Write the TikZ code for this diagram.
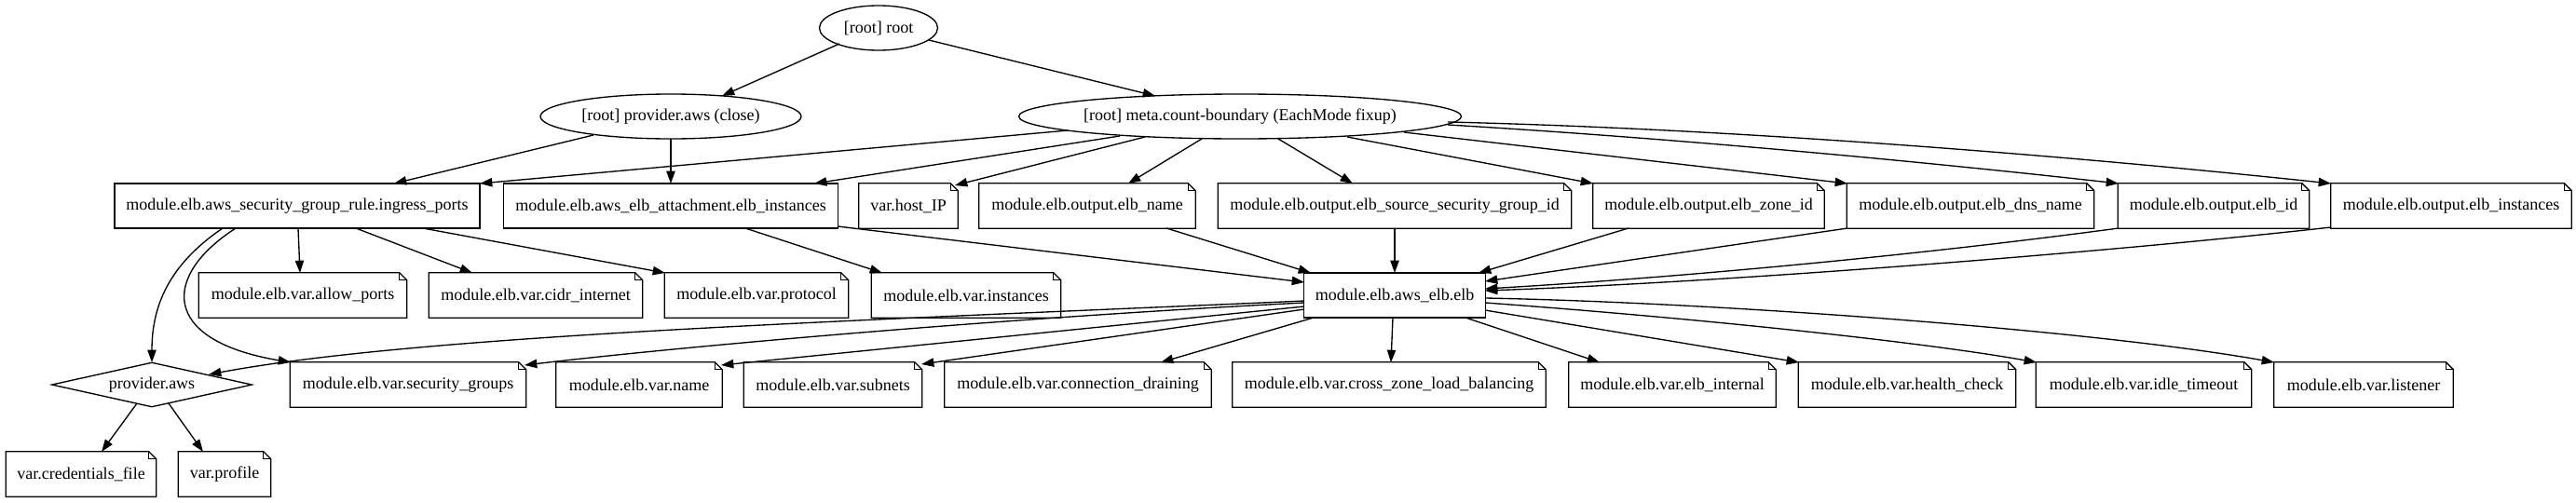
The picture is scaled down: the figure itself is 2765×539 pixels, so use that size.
\documentclass[tikz,border=0pt]{standalone}
\usepackage{fontspec}
\setmainfont{Liberation Serif}
\usetikzlibrary{shapes.geometric,arrows.meta,calc}
\begin{document}
\begin{tikzpicture}[x=0.75pt,y=-0.75pt,
  every node/.style={font=\fontsize{13.5}{16}\selectfont, inner sep=0pt, minimum height=36pt},
  boxnode/.style={draw, rectangle, line width=1pt},
  notenode/.style={rectangle},
  ellnode/.style={draw, ellipse, line width=1pt},
  dianode/.style={draw, diamond, aspect=4.5, line width=1pt},
  conn/.style={line width=1pt, -{Triangle[length=10pt,width=7pt]}},
  noteline/.style={line width=1pt, line join=miter}]
\useasboundingbox (0,0) rectangle (2765,539);

% rank 0-1
\node[ellnode, minimum width=95.25pt] (root) at (943,30) {[root] root};
\node[ellnode, minimum width=210pt] (pclose) at (720,125) {[root] provider.aws (close)};
\node[ellnode, minimum width=354pt] (meta) at (1331,125) {[root] meta.count-boundary (EachMode fixup)};

% rank 2
\node[boxnode, minimum width=294pt] (ingress) at (319,221) {module.elb.aws\_security\_group\_rule.ingress\_ports};
\node[boxnode, minimum width=269.25pt] (attach) at (720,221) {module.elb.aws\_elb\_attachment.elb\_instances};
\node[notenode, minimum width=79.5pt] (hostip) at (975,221) {var.host\_IP};
\node[notenode, minimum width=174pt] (oname) at (1167,221) {module.elb.output.elb\_name};
\node[notenode, minimum width=284.25pt] (osg) at (1497,221) {module.elb.output.elb\_source\_security\_group\_id};
\node[notenode, minimum width=186pt] (ozone) at (1834,221) {module.elb.output.elb\_zone\_id};
\node[notenode, minimum width=198.75pt] (odns) at (2115,221) {module.elb.output.elb\_dns\_name};
\node[notenode, minimum width=153.75pt] (oid) at (2376,221) {module.elb.output.elb\_id};
\node[notenode, minimum width=193.5pt] (oinst) at (2631,221) {module.elb.output.elb\_instances};

% rank 3
\node[notenode, minimum width=167.25pt] (allow) at (325,317) {module.elb.var.allow\_ports};
\node[notenode, minimum width=171.75pt] (cidr) at (575,317) {module.elb.var.cidr\_internet};
\node[notenode, minimum width=147.75pt] (proto) at (812,317) {module.elb.var.protocol};
\node[notenode, minimum width=152.25pt] (vinst) at (1037,317) {module.elb.var.instances};
\node[boxnode, minimum width=146.25pt] (elb) at (1497,317) {module.elb.aws\_elb.elb};

% rank 4
\node[dianode, minimum width=161.25pt] (paws) at (163,413) {provider.aws};
\node[notenode, minimum width=189.75pt] (sg) at (438,413) {module.elb.var.security\_groups};
\node[notenode, minimum width=133.5pt] (vname) at (686,413) {module.elb.var.name};
\node[notenode, minimum width=143.25pt] (subnets) at (894,413) {module.elb.var.subnets};
\node[notenode, minimum width=214.5pt] (drain) at (1157,413) {module.elb.var.connection\_draining};
\node[notenode, minimum width=252pt] (cross) at (1491,413) {module.elb.var.cross\_zone\_load\_balancing};
\node[notenode, minimum width=166.5pt] (internal) at (1795,413) {module.elb.var.elb\_internal};
\node[notenode, minimum width=174.75pt] (health) at (2047,413) {module.elb.var.health\_check};
\node[notenode, minimum width=173.25pt] (idle) at (2301,413) {module.elb.var.idle\_timeout};
\node[notenode, minimum width=144pt] (listener) at (2537,413) {module.elb.var.listener};

% rank 5
\node[notenode, minimum width=120.75pt] (cred) at (87,509) {var.credentials\_file};
\node[notenode, minimum width=74.25pt] (profile) at (241,509) {var.profile};

% note outlines
\foreach \n in {hostip,oname,osg,ozone,odns,oid,oinst,allow,cidr,proto,vinst,sg,vname,subnets,drain,cross,internal,health,idle,listener,cred,profile}{
  \draw[noteline] (\n.north west) -- ($(\n.north east)+(-8,0)$) -- ($(\n.north east)+(0,8)$) -- (\n.south east) -- (\n.south west) -- cycle;
  \draw[noteline] ($(\n.north east)+(-8,0)$) -- ($(\n.north east)+(-8,8)$) -- ($(\n.north east)+(0,8)$);
}

% edges
\draw[conn] ($(root)+(-42,17)$) -- ($(pclose)+(55,-22)$);
\draw[conn] ($(root)+(54,13)$) -- ($(meta)+(-91,-22)$);
\draw[conn] ($(pclose)+(-83,20)$) -- ($(ingress)+(104,-24)$);
\draw[conn] ($(pclose)+(0,24)$) -- ($(attach)+(0,-24)$);
\draw[conn] ($(meta)+(-185,15)$) -- ($(ingress)+(196,-24)$);
\draw[conn] ($(meta)+(-129,21)$) -- ($(attach)+(154,-24)$);
\draw[conn] ($(meta)+(-102,22)$) -- ($(hostip)+(50,-22)$);
\draw[conn] ($(meta)+(-41,24)$) -- ($(oname)+(44,-24)$);
\draw[conn] ($(meta)+(41,24)$) -- ($(osg)+(-45,-24)$);
\draw[conn] ($(meta)+(115,22)$) -- ($(ozone)+(-124,-24)$);
\draw[conn] ($(meta)+(176,17)$) -- ($(odns)+(-132,-24)$);
\draw[conn] ($(meta)+(223,9)$) .. controls (1790,148) and (2050,172) .. ($(oid)+(-102,-24)$);
\draw[conn] ($(meta)+(223,6)$) .. controls (1850,138) and (2200,165) .. ($(oinst)+(-129,-24)$);

\draw[conn] ($(ingress)+(-80,24)$) .. controls (180,285) and (163,330) .. ($(paws)+(0,-24)$);
\draw[conn] ($(ingress)+(-66,24)$) .. controls (175,295) and (170,365) .. ($(sg)+(-126,-24)$);
\draw[conn] ($(ingress)+(1,24)$) -- ($(allow)+(-3,-24)$);
\draw[conn] ($(ingress)+(63,24)$) -- ($(cidr)+(-68,-24)$);
\draw[conn] ($(ingress)+(135,24)$) -- ($(proto)+(-98,-24)$);
\draw[conn] ($(attach)+(80,24)$) -- ($(vinst)+(-90,-24)$);
\draw[conn] ($(attach)+(179,22)$) -- ($(elb)+(-97,-14)$);

\draw[conn] ($(oname)+(85,24)$) -- ($(elb)+(-90,-24)$);
\draw[conn] ($(osg)+(0,24)$) -- ($(elb)+(0,-24)$);
\draw[conn] ($(ozone)+(-86,24)$) -- ($(elb)+(90,-24)$);
\draw[conn] ($(odns)+(-132,24)$) -- ($(elb)+(97,-15)$);
\draw[conn] ($(oid)+(-102,24)$) .. controls (2050,275) and (1800,298) .. ($(elb)+(97,-7)$);
\draw[conn] ($(oinst)+(-129,23)$) .. controls (2250,272) and (1850,303) .. ($(elb)+(97,-5)$);

\draw[conn] ($(elb)+(-97,6)$) .. controls (900,345) and (450,360) .. ($(paws)+(61,-11)$);
\draw[conn] ($(elb)+(-97,8)$) .. controls (1100,340) and (750,370) .. ($(sg)+(125,-21)$);
\draw[conn] ($(elb)+(-97,12)$) -- ($(vname)+(88,-21)$);
\draw[conn] ($(elb)+(-97,15)$) -- ($(subnets)+(95,-22)$);
\draw[conn] ($(elb)+(-87,24)$) -- ($(drain)+(89,-24)$);
\draw[conn] ($(elb)+(-2,24)$) -- ($(cross)+(2,-24)$);
\draw[conn] ($(elb)+(76,24)$) -- ($(internal)+(-78,-24)$);
\draw[conn] ($(elb)+(97,16)$) -- ($(health)+(-116,-24)$);
\draw[conn] ($(elb)+(97,8)$) .. controls (1800,340) and (2050,365) .. ($(idle)+(-115,-24)$);
\draw[conn] ($(elb)+(97,3)$) .. controls (1850,325) and (2250,355) .. ($(listener)+(-96,-24)$);

\draw[conn] ($(paws)+(-16,20)$) -- ($(cred)+(22,-24)$);
\draw[conn] ($(paws)+(18,20)$) -- ($(profile)+(-23,-24)$);
\end{tikzpicture}
\end{document}
